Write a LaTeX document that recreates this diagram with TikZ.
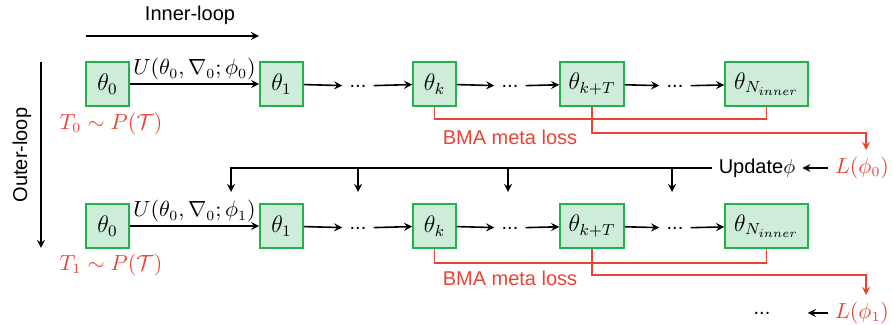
\documentclass[tikz,border=0pt]{standalone}
\usepackage{fontspec}
\setsansfont{Liberation Sans}
\usepackage{tikz}
\definecolor{boxgreen}{RGB}{34,177,76}
\definecolor{boxfill}{RGB}{205,237,216}
\definecolor{lossred}{RGB}{234,67,53}
\tikzstyle{theta} = [rectangle, minimum width=21.5pt, minimum height=22pt, inner sep=2pt, text centered, draw=boxgreen, thick, fill=boxfill, font=\fontsize{12}{14}\selectfont]
\tikzstyle{dots} = [inner sep=3.5pt, font=\sffamily]
\tikzstyle{txt} = [font=\sffamily]
\tikzstyle{red} = [text=lossred, font=\sffamily]
\tikzstyle{arrow} = [thick,->,>=stealth]
\tikzstyle{loss} = [thick, draw=lossred]

\begin{document}
\begin{tikzpicture}[x=0.5pt, y=-0.5pt, font=\fontsize{10.5}{12}\selectfont]
\useasboundingbox (0,0) rectangle (893,325);

% loop labels
\node (inner) [txt] at (190,15) {Inner-loop};
\coordinate (ina) at (86,36);
\coordinate (inb) at (259,36);
\draw [arrow] (ina) -- (inb);
\node (outer) [txt, rotate=90] at (22,155) {Outer-loop};
\coordinate (outa) at (41,62);
\coordinate (outb) at (41,248);
\draw [arrow] (outa) -- (outb);

% first task
\node (t10) [theta] at (107.5,84) {$\theta_0$};
\node (t11) [theta] at (281.5,84) {$\theta_1$};
\node (t1k) [theta] at (434.5,84) {$\theta_k$};
\node (t1kT) [theta, minimum width=32pt] at (592,84) {$\theta_{k+T}$};
\node (t1N) [theta, minimum width=41.5pt] at (766.5,84) {$\theta_{N_{inner}}$};
\node (d11) [dots] at (358,86) {...};
\node (d12) [dots] at (510,86) {...};
\node (d13) [dots] at (675,86) {...};
\node (task0) [text=lossred] at (111,124) {$T_0 \sim P(\mathcal{T})$};
\node (bma1) [red] at (510,137) {BMA meta loss};

\draw [arrow] (t10) -- node [above, inner sep=1.5pt] {$U(\theta_0,\nabla_0;\phi_0)$} (t11);
\draw [arrow] (t11) -- (d11);
\draw [arrow] (d11) -- (t1k);
\draw [arrow] (t1k) -- (d12);
\draw [arrow] (d12) -- (t1kT);
\draw [arrow] (t1kT) -- (d13);
\draw [arrow] (d13) -- (t1N);

% meta update
\node (upd) [txt] at (757,168) {Update$\phi$};
\node (L0) [text=lossred] at (862,168) {$L(\phi_0)$};
\draw [loss] (t1k.south) -- ++(0,12) -| (t1N.south);
\draw [loss, ->, >=stealth] (t1kT.south) -- ++(0,26) -| ([xshift=2pt]L0.north);
\draw [arrow] (L0) -- (upd);

\coordinate (in1) at (231,192);
\coordinate (in2) at (358,192);
\coordinate (in3) at (508,192);
\coordinate (in4) at (672,192);
\draw [arrow] (upd.west) -| (in1);
\foreach \n in {in2,in3,in4}
  \draw [arrow] (upd.west -| \n) -- (\n);

% second task
\node (t20) [theta] at (107.5,226) {$\theta_0$};
\node (t21) [theta] at (281.5,226) {$\theta_1$};
\node (t2k) [theta] at (434.5,226) {$\theta_k$};
\node (t2kT) [theta, minimum width=32pt] at (592,226) {$\theta_{k+T}$};
\node (t2N) [theta, minimum width=41.5pt] at (766.5,226) {$\theta_{N_{inner}}$};
\node (d21) [dots] at (358,228) {...};
\node (d22) [dots] at (510,228) {...};
\node (d23) [dots] at (675,228) {...};
\node (task1) [text=lossred] at (111,265) {$T_1 \sim P(\mathcal{T})$};
\node (bma2) [red] at (510,278) {BMA meta loss};

\draw [arrow] (t20) -- node [above, inner sep=1.5pt] {$U(\theta_0,\nabla_0;\phi_1)$} (t21);
\draw [arrow] (t21) -- (d21);
\draw [arrow] (d21) -- (t2k);
\draw [arrow] (t2k) -- (d22);
\draw [arrow] (d22) -- (t2kT);
\draw [arrow] (t2kT) -- (d23);
\draw [arrow] (d23) -- (t2N);

\node (dd) [dots] at (762,313) {...};
\node (L1) [text=lossred] at (862,313) {$L(\phi_1)$};
\draw [loss] (t2k.south) -- ++(0,14) -| (t2N.south);
\draw [loss, ->, >=stealth] (t2kT.south) -- ++(0,26) -| ([xshift=2pt]L1.north);
\draw [arrow, shorten >=15pt] (L1) -- (dd);
\end{tikzpicture}
\end{document}
